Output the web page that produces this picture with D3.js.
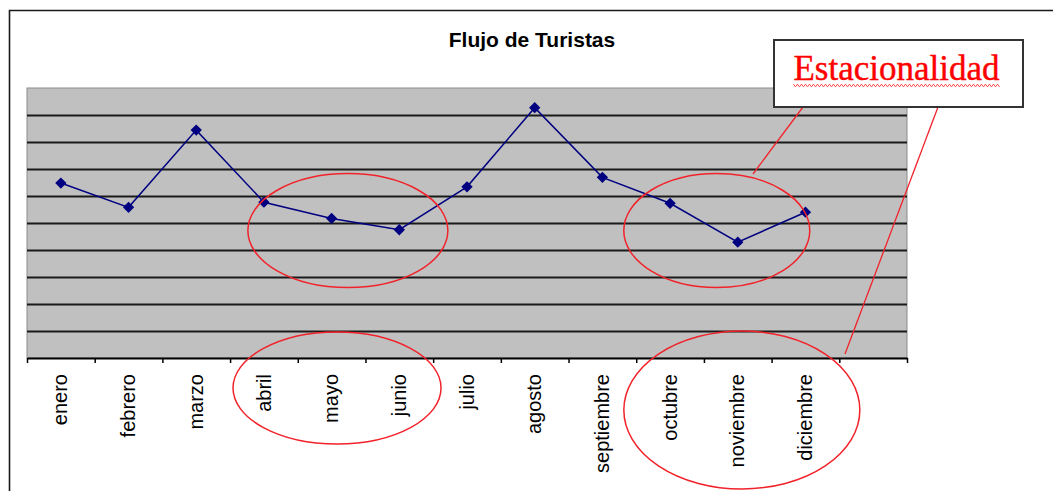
<!DOCTYPE html>
<html>
<head>
<meta charset="utf-8">
<script src="https://cdn.jsdelivr.net/npm/d3@7"></script>
<style>
  html, body { margin: 0; padding: 0; background: #fff; }
  svg { display: block; }
</style>
</head>
<body>
<svg id="chart" width="1053" height="491"></svg>
<script>
// Monthly tourist flow (relative index, no value axis shown)
const months = ["enero", "febrero", "marzo", "abril", "mayo", "junio",
                "julio", "agosto", "septiembre", "octubre", "noviembre", "diciembre"];
const touristFlow = [64.8, 55.8, 84.4, 57.7, 51.7, 47.5, 63.4, 92.7, 66.9, 57.3, 42.9, 54.0];
const gridTicks = [10, 20, 30, 40, 50, 60, 70, 80, 90];
const chartTitle = "Flujo de Turistas";
const calloutText = "Estacionalidad";

const svg = d3.select("#chart");
const plot = { left: 27, right: 907, top: 88, bottom: 358 };

// One spare empty slot after diciembre, as in the category axis
const slots = months.concat([""]);
const x = d3.scaleBand().domain(slots).range([plot.left, plot.right]).paddingInner(0).paddingOuter(0);
const xi = d3.scaleLinear().domain([0, slots.length]).range([plot.left, plot.right]);
const y = d3.scaleLinear().domain([0, 100]).range([plot.bottom, plot.top]);

// Outer chart frame (top and left edges)
svg.append("path")
  .attr("d", "M9.5,491 L9.5,10.5 L1053,10.5")
  .attr("fill", "none").attr("stroke", "#1a1a1a").attr("stroke-width", 1.6);

// Title
svg.append("text")
  .attr("x", 532).attr("y", 46.5)
  .attr("text-anchor", "middle")
  .attr("font-family", "'Liberation Sans', Arial, sans-serif")
  .attr("font-weight", "bold").attr("font-size", 21)
  .attr("fill", "#000")
  .text(chartTitle);

// Plot background
svg.append("rect")
  .attr("x", plot.left).attr("y", plot.top)
  .attr("width", plot.right - plot.left).attr("height", plot.bottom - plot.top)
  .attr("fill", "#c0c0c0").attr("stroke", "#8c8c8c").attr("stroke-width", 1);

// Horizontal gridlines
svg.append("g")
  .attr("transform", `translate(${plot.left},0)`)
  .call(d3.axisLeft(y).tickValues(gridTicks).tickSize(-(plot.right - plot.left)).tickFormat(""))
  .call(g => g.select(".domain").remove())
  .call(g => g.selectAll(".tick line").attr("stroke", "#1a1a1a").attr("stroke-width", 2));

// Category axis: line plus ticks at slot boundaries
svg.append("g")
  .attr("transform", `translate(0,${plot.bottom})`)
  .call(d3.axisBottom(xi).tickValues(d3.range(0, slots.length + 1)).tickSize(5).tickSizeOuter(0).tickFormat(""))
  .call(g => g.select(".domain").attr("stroke", "#000").attr("stroke-width", 2))
  .call(g => g.selectAll(".tick line").attr("stroke", "#000").attr("stroke-width", 1.5));

// Month labels, rotated
svg.append("g")
  .selectAll("text")
  .data(months)
  .join("text")
  .attr("transform", d => `translate(${x(d) + x.bandwidth() / 2},374) rotate(-90)`)
  .attr("dy", "0.33em")
  .attr("text-anchor", "end")
  .attr("font-family", "'Liberation Sans', Arial, sans-serif")
  .attr("font-size", 20)
  .attr("fill", "#000")
  .text(d => d);

// Series line and markers
const cx = (d, i) => x(months[i]) + x.bandwidth() / 2;
const line = d3.line().x(cx).y(d => y(d));
svg.append("path")
  .datum(touristFlow)
  .attr("d", line)
  .attr("fill", "none").attr("stroke", "#000080").attr("stroke-width", 1.5);

svg.append("g")
  .selectAll("path")
  .data(touristFlow)
  .join("path")
  .attr("d", d3.symbol(d3.symbolSquare, 64))
  .attr("transform", (d, i) => `translate(${cx(d, i)},${y(d)}) rotate(45)`)
  .attr("fill", "#000080");

// Seasonality highlights (ellipses)
const red = "#f2222a";
const ellipses = [
  { cx: xi(4.74), cy: y(47.2), rx: 100, ry: 57 },
  { cx: xi(10.19), cy: y(47.2), rx: 93, ry: 57 },
  { cx: xi(4.58), cy: plot.bottom + 30, rx: 104, ry: 56 },
  { cx: xi(10.56), cy: plot.bottom + 52, rx: 118, ry: 79 }
];
svg.append("g")
  .selectAll("ellipse")
  .data(ellipses)
  .join("ellipse")
  .attr("cx", d => d.cx).attr("cy", d => d.cy)
  .attr("rx", d => d.rx).attr("ry", d => d.ry)
  .attr("fill", "none").attr("stroke", red).attr("stroke-width", 1.5);

// Callout box and leader lines
const box = { x: 774, y: 40, w: 249, h: 67 };
svg.append("line")
  .attr("x1", 803).attr("y1", box.y + box.h).attr("x2", 753).attr("y2", 174)
  .attr("stroke", red).attr("stroke-width", 1.3);
svg.append("line")
  .attr("x1", 938).attr("y1", box.y + box.h).attr("x2", 845).attr("y2", 354)
  .attr("stroke", red).attr("stroke-width", 1.3);

svg.append("rect")
  .attr("x", box.x).attr("y", box.y).attr("width", box.w).attr("height", box.h)
  .attr("fill", "#fff").attr("stroke", "#333").attr("stroke-width", 2);

const calloutLabel = svg.append("text")
  .attr("x", box.x + box.w / 2 - 2).attr("y", 80)
  .attr("text-anchor", "middle")
  .attr("font-family", "'Liberation Serif', 'Times New Roman', serif")
  .attr("font-size", 35)
  .attr("fill", "#ff0000")
  .attr("stroke", "#ff0000").attr("stroke-width", 0.4)
  .text(calloutText);

// Wavy underline beneath the callout text
const bb = calloutLabel.node().getBBox();
const wave = [];
for (let px = bb.x, k = 0; px <= bb.x + bb.width; px += 2, k++) {
  wave.push([px, 85.5 + (k % 2 === 0 ? -1.3 : 1.3)]);
}
svg.append("path")
  .attr("d", d3.line()(wave))
  .attr("fill", "none").attr("stroke", "#ff3030").attr("stroke-width", 0.9);
</script>
</body>
</html>
